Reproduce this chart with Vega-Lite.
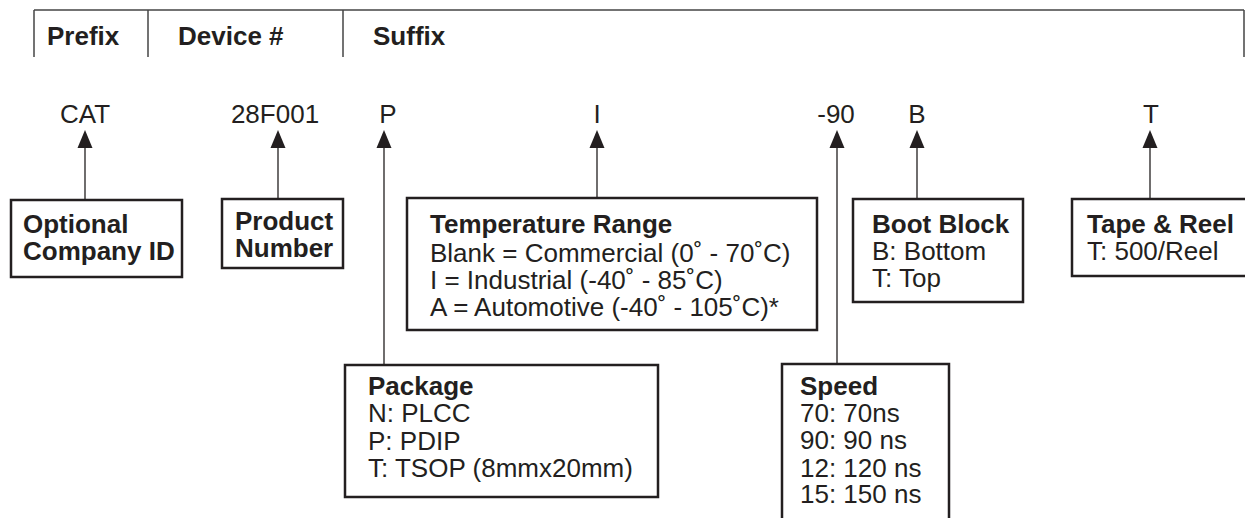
{
  "$schema": "https://vega.github.io/schema/vega-lite/v6.json",
  "width": 1245,
  "height": 518,
  "padding": 0,
  "autosize": {"type": "none"},
  "background": "white",
  "config": {"view": {"stroke": null}},
  "encoding": {
    "x": {"field": "x", "type": "quantitative", "scale": {"domain": [0, 1245], "nice": false, "zero": false}, "axis": null},
    "y": {"field": "y", "type": "quantitative", "scale": {"domain": [0, 518], "nice": false, "zero": false, "reverse": true}, "axis": null}
  },
  "layer": [
    {
      "data": {"values": [
        {"box": "Optional Company ID", "x": 11, "y": 200, "x2": 182, "y2": 277},
        {"box": "Product Number", "x": 222, "y": 199, "x2": 343, "y2": 268},
        {"box": "Temperature Range", "x": 407, "y": 198, "x2": 817, "y2": 330},
        {"box": "Boot Block", "x": 853, "y": 199, "x2": 1023, "y2": 302},
        {"box": "Tape & Reel", "x": 1072, "y": 199, "x2": 1262, "y2": 276},
        {"box": "Package", "x": 345, "y": 365, "x2": 658, "y2": 497},
        {"box": "Speed", "x": 782, "y": 364, "x2": 949, "y2": 530}
      ]},
      "mark": {"type": "rect", "fill": "white", "stroke": "#231f20", "strokeWidth": 2.5, "clip": true},
      "encoding": {"x2": {"field": "x2"}, "y2": {"field": "y2"}}
    },
    {
      "data": {"values": [
        {"x": 34, "y": 10, "x2": 1244, "y2": 10},
        {"x": 34, "y": 10, "x2": 34, "y2": 57},
        {"x": 148, "y": 10, "x2": 148, "y2": 57},
        {"x": 343, "y": 10, "x2": 343, "y2": 57},
        {"x": 1244, "y": 10, "x2": 1244, "y2": 57}
      ]},
      "mark": {"type": "rule", "stroke": "#444444", "strokeWidth": 1.5},
      "encoding": {"x2": {"field": "x2"}, "y2": {"field": "y2"}}
    },
    {
      "data": {"values": [
        {"code": "CAT", "x": 85, "y": 148, "x2": 85, "y2": 200},
        {"code": "28F001", "x": 278, "y": 148, "x2": 278, "y2": 199},
        {"code": "P", "x": 384, "y": 148, "x2": 384, "y2": 365},
        {"code": "I", "x": 597, "y": 148, "x2": 597, "y2": 198},
        {"code": "-90", "x": 837, "y": 148, "x2": 837, "y2": 364},
        {"code": "B", "x": 917, "y": 148, "x2": 917, "y2": 199},
        {"code": "T", "x": 1150, "y": 148, "x2": 1150, "y2": 199}
      ]},
      "mark": {"type": "rule", "stroke": "#231f20", "strokeWidth": 1.3},
      "encoding": {"x2": {"field": "x2"}, "y2": {"field": "y2"}}
    },
    {
      "data": {"values": [
        {"code": "CAT", "x": 85, "y": 139},
        {"code": "28F001", "x": 278, "y": 139},
        {"code": "P", "x": 384, "y": 139},
        {"code": "I", "x": 597, "y": 139},
        {"code": "-90", "x": 837, "y": 139},
        {"code": "B", "x": 917, "y": 139},
        {"code": "T", "x": 1150, "y": 139}
      ]},
      "mark": {"type": "point", "shape": "M0,-1L0.833,1L-0.833,1Z", "size": 324, "filled": true, "fill": "#231f20", "stroke": null, "opacity": 1}
    },
    {
      "data": {"values": [
        {"text": "Prefix", "x": 47, "y": 45},
        {"text": "Device #", "x": 178, "y": 45},
        {"text": "Suffix", "x": 373, "y": 45},
        {"text": "Optional", "x": 23, "y": 233},
        {"text": "Company ID", "x": 23, "y": 260},
        {"text": "Product", "x": 235, "y": 230},
        {"text": "Number", "x": 235, "y": 257},
        {"text": "Temperature Range", "x": 430, "y": 233},
        {"text": "Boot Block", "x": 872, "y": 233},
        {"text": "Tape & Reel", "x": 1087, "y": 233},
        {"text": "Package", "x": 368, "y": 395},
        {"text": "Speed", "x": 800, "y": 395}
      ]},
      "mark": {"type": "text", "align": "left", "baseline": "alphabetic", "font": "Liberation Sans", "fontSize": 26, "fontWeight": "bold", "fill": "#231f20"},
      "encoding": {"text": {"field": "text"}}
    },
    {
      "data": {"values": [
        {"text": "Blank = Commercial (0˚ - 70˚C)", "x": 430, "y": 262},
        {"text": "I = Industrial (-40˚ - 85˚C)", "x": 430, "y": 289},
        {"text": "A = Automotive (-40˚ - 105˚C)*", "x": 430, "y": 316},
        {"text": "B: Bottom", "x": 872, "y": 260},
        {"text": "T: Top", "x": 872, "y": 287},
        {"text": "T: 500/Reel", "x": 1087, "y": 260},
        {"text": "N: PLCC", "x": 368, "y": 422},
        {"text": "P: PDIP", "x": 368, "y": 450},
        {"text": "T: TSOP (8mmx20mm)", "x": 368, "y": 477},
        {"text": "70: 70ns", "x": 800, "y": 422},
        {"text": "90: 90 ns", "x": 800, "y": 449},
        {"text": "12: 120 ns", "x": 800, "y": 477},
        {"text": "15: 150 ns", "x": 800, "y": 503}
      ]},
      "mark": {"type": "text", "align": "left", "baseline": "alphabetic", "font": "Liberation Sans", "fontSize": 26, "fill": "#231f20"},
      "encoding": {"text": {"field": "text"}}
    },
    {
      "data": {"values": [
        {"text": "CAT", "x": 85, "y": 123},
        {"text": "28F001", "x": 275, "y": 123},
        {"text": "P", "x": 388, "y": 123},
        {"text": "I", "x": 597, "y": 123},
        {"text": "-90", "x": 836, "y": 123},
        {"text": "B", "x": 917, "y": 123},
        {"text": "T", "x": 1151, "y": 123}
      ]},
      "mark": {"type": "text", "align": "center", "baseline": "alphabetic", "font": "Liberation Sans", "fontSize": 26, "fill": "#231f20"},
      "encoding": {"text": {"field": "text"}}
    }
  ]
}
